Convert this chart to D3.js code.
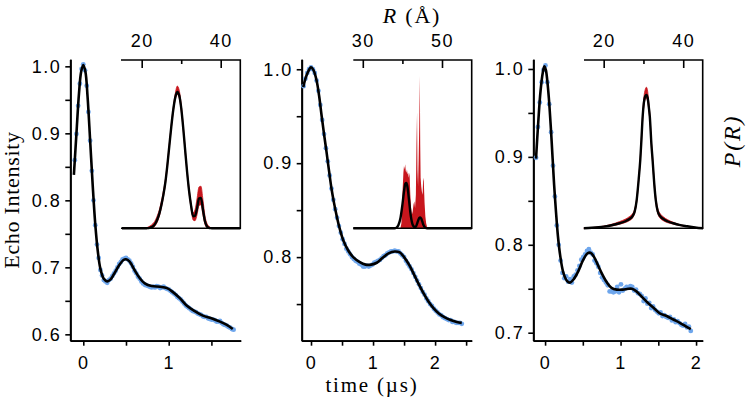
<!DOCTYPE html>
<html><head><meta charset="utf-8">
<script src="https://cdn.jsdelivr.net/npm/d3@7"></script>
<style>body{margin:0;background:#fff}svg{display:block}</style>
</head><body><svg id="c" width="747" height="404"></svg>
<script>
// ---------- DATA ----------
// Echo data (blue dots): uniform time grid start/step
const dots1Start = -0.10, dots1Step = 0.02;
const dots1 = [0.860,0.899,0.941,0.974,0.996,1.003,0.994,0.971,0.932,0.889,
 0.844,0.800,0.763,0.734,0.714,0.696,0.688,0.681,0.679,0.677,
 0.681,0.683,0.687,0.691,0.695,0.700,0.705,0.708,0.712,0.713,
 0.714,0.712,0.710,0.706,0.701,0.695,0.691,0.686,0.683,0.679,
 0.676,0.674,0.673,0.672,0.671,0.670,0.671,0.670,0.672,0.671,
 0.669,0.670,0.671,0.669,0.668,0.667,0.665,0.663,0.661,0.659,
 0.656,0.654,0.652,0.649,0.646,0.643,0.641,0.639,0.637,0.635,
 0.634,0.633,0.631,0.630,0.629,0.627,0.626,0.626,0.624,0.623,
 0.622,0.622,0.621,0.619,0.619,0.620,0.617,0.615,0.614,0.613,
 0.611,0.610,0.608,0.607];
const dots2Start = -0.12, dots2Step = 0.03;
const dots2 = [0.982,0.990,0.996,1.000,1.002,1.000,0.996,0.988,0.977,0.962,
 0.946,0.931,0.916,0.902,0.887,0.873,0.861,0.851,0.842,0.833,
 0.826,0.819,0.814,0.809,0.806,0.803,0.800,0.798,0.796,0.795,
 0.793,0.792,0.790,0.790,0.791,0.790,0.791,0.792,0.794,0.795,
 0.796,0.797,0.799,0.801,0.802,0.804,0.805,0.806,0.806,0.807,
 0.806,0.806,0.804,0.802,0.800,0.796,0.793,0.790,0.787,0.783,
 0.779,0.775,0.771,0.767,0.763,0.760,0.756,0.753,0.750,0.748,
 0.745,0.743,0.741,0.739,0.738,0.736,0.735,0.734,0.733,0.733,
 0.731,0.731,0.730,0.730,0.730,0.729];
const dots3Start = -0.12, dots3Step = 0.025;
const dots3 = [0.899,0.934,0.962,0.985,0.999,1.004,0.985,0.960,0.928,0.890,
 0.855,0.822,0.800,0.782,0.768,0.762,0.764,0.758,0.761,0.757,
 0.764,0.766,0.771,0.776,0.783,0.786,0.789,0.793,0.795,0.791,
 0.789,0.782,0.779,0.775,0.768,0.763,0.760,0.757,0.754,0.747,
 0.747,0.746,0.747,0.752,0.746,0.755,0.748,0.750,0.752,0.751,
 0.753,0.752,0.748,0.749,0.745,0.744,0.742,0.736,0.739,0.733,
 0.734,0.728,0.730,0.726,0.724,0.722,0.723,0.719,0.720,0.718,
 0.717,0.718,0.714,0.715,0.712,0.713,0.711,0.709,0.708,0.710,
 0.706,0.707,0.702];

// Fits (black lines)
const fit1T = [-0.11,-0.08,-0.05,-0.025,0,0.025,0.05,0.08,0.11,0.14,0.17,0.2,0.24,0.28,0.32,0.36,0.42,0.47,0.5,0.54,0.6,0.66,0.72,0.8,0.9,0.98,1.05,1.13,1.21,1.3,1.4,1.5,1.6,1.68,1.75];
const fit1V = [0.838,0.900,0.960,0.992,1.002,0.992,0.955,0.890,0.823,0.765,0.724,0.698,0.683,0.679,0.682,0.690,0.703,0.711,0.712,0.709,0.696,0.684,0.676,0.672,0.671,0.669,0.663,0.654,0.643,0.635,0.628,0.624,0.619,0.614,0.608];
const fit2T = [-0.125,-0.09,-0.05,0,0.04,0.09,0.13,0.17,0.21,0.25,0.29,0.33,0.37,0.41,0.46,0.52,0.6,0.68,0.78,0.88,0.97,1.06,1.15,1.25,1.35,1.43,1.5,1.58,1.65,1.73,1.81,1.89,1.97,2.06,2.15,2.25,2.35,2.43];
const fit2V = [0.981,0.990,0.997,1.002,0.999,0.988,0.972,0.951,0.931,0.912,0.892,0.873,0.858,0.845,0.831,0.818,0.807,0.800,0.795,0.792,0.792,0.794,0.799,0.804,0.806,0.805,0.800,0.792,0.783,0.772,0.762,0.753,0.746,0.740,0.736,0.733,0.731,0.730];
const fit3T = [-0.12,-0.09,-0.06,-0.03,-0.01,0.01,0.03,0.05,0.075,0.1,0.12,0.145,0.17,0.2,0.24,0.29,0.33,0.38,0.44,0.5,0.56,0.6,0.65,0.7,0.76,0.82,0.88,0.95,1.03,1.1,1.15,1.21,1.28,1.36,1.44,1.52,1.61,1.7,1.79,1.87,1.93];
const fit3V = [0.898,0.940,0.975,0.996,1.003,0.999,0.986,0.967,0.935,0.898,0.868,0.837,0.810,0.788,0.769,0.759,0.757,0.761,0.770,0.782,0.790,0.791,0.786,0.777,0.766,0.757,0.751,0.749,0.749,0.750,0.750,0.747,0.741,0.734,0.728,0.722,0.719,0.715,0.711,0.707,0.704];

// Distance distributions P(R) (insets)
const r1 = [15,21,21.5,22,22.5,23,23.5,24,24.5,25,25.5,26,26.5,27,27.5,28,28.5,29,29.5,30,30.5,31,31.5,32,32.5,33,33.5,34,34.5,35,35.5,36,36.5,37,37.5,38,45];
const p1 = [0,0,0.001,0.003,0.007,0.015,0.03,0.055,0.09,0.14,0.2,0.275,0.376,0.491,0.606,0.706,0.778,0.81,0.79,0.715,0.599,0.464,0.333,0.221,0.135,0.072,0.074,0.117,0.177,0.181,0.112,0.043,0.012,0.003,0.001,0,0];
const p1hi = [0,0.002,0.006,0.012,0.02,0.032,0.05,0.078,0.113,0.163,0.222,0.29,0.39,0.503,0.617,0.72,0.8,0.845,0.82,0.735,0.612,0.476,0.345,0.235,0.152,0.092,0.11,0.175,0.245,0.25,0.17,0.075,0.03,0.012,0.004,0,0];
const p1lo = [0,0,0,0,0,0.005,0.018,0.04,0.075,0.125,0.185,0.262,0.365,0.48,0.597,0.695,0.765,0.795,0.775,0.7,0.588,0.453,0.322,0.208,0.12,0.05,0.045,0.08,0.135,0.14,0.08,0.025,0.004,0,0,0,0];

const r2 = [27.6,38,38.5,39,39.5,40,40.25,40.5,40.75,41,41.25,41.5,41.75,42,42.25,42.5,42.75,43,43.25,43.5,43.75,44,44.25,44.5,44.75,45,45.25,45.5,45.75,46,46.5,57.5];
const p2 = [0,0,0.004,0.02,0.06,0.14,0.19,0.235,0.265,0.27,0.25,0.205,0.15,0.095,0.055,0.028,0.014,0.008,0.008,0.014,0.03,0.048,0.061,0.065,0.058,0.042,0.024,0.011,0.004,0.001,0,0];
const r2hi = [27.6,39.5,39.75,40,40.25,40.4,40.55,40.7,40.85,41,41.15,41.3,41.45,41.6,41.8,42,42.2,42.4,42.6,42.8,43,43.2,43.4,43.55,43.7,43.8,43.95,44.1,44.25,44.4,44.5,44.6,44.75,44.9,45.1,45.25,45.4,45.6,45.8,46,46.2,46.4,57.5];
const p2hi = [0,0,0.03,0.2,0.33,0.37,0.35,0.38,0.34,0.33,0.35,0.32,0.33,0.3,0.33,0.2,0.12,0.08,0.1,0.14,0.16,0.12,0.2,0.5,0.69,0.35,0.25,0.4,0.6,0.905,0.5,0.3,0.25,0.22,0.2,0.3,0.28,0.15,0.07,0.03,0.01,0,0];

const r3 = [15,17,20,22,24,25.5,26.5,27.2,27.8,28.3,28.8,29.2,29.5,29.8,30.1,30.45,30.75,31.05,31.35,31.6,32,32.3,32.7,33.1,33.6,34.2,35,36,37.5,39,41,43,45];
const p3 = [0,0.003,0.01,0.018,0.03,0.042,0.055,0.07,0.1,0.168,0.29,0.406,0.53,0.663,0.745,0.785,0.792,0.775,0.72,0.663,0.5,0.406,0.27,0.168,0.1,0.072,0.055,0.042,0.03,0.02,0.012,0.005,0];
const p3hi = [0,0.004,0.013,0.024,0.04,0.055,0.07,0.085,0.115,0.18,0.3,0.42,0.545,0.68,0.775,0.825,0.838,0.815,0.745,0.68,0.515,0.42,0.285,0.185,0.118,0.088,0.068,0.052,0.036,0.023,0.013,0.005,0];
const p3lo = [0,0.002,0.008,0.014,0.024,0.035,0.046,0.06,0.09,0.155,0.28,0.395,0.515,0.645,0.725,0.765,0.772,0.755,0.7,0.645,0.485,0.39,0.258,0.155,0.088,0.06,0.045,0.034,0.025,0.017,0.01,0.004,0];

// Tick values / labels
const yTicks1 = [0.6,0.7,0.8,0.9,1.0], yMinor1 = [0.65,0.75,0.85,0.95];
const yTicks2 = [0.8,0.9,1.0], yMinor2 = [0.75,0.85,0.95];
const yTicks3 = [0.7,0.8,0.9,1.0], yMinor3 = [0.75,0.85,0.95];
const xTicks1 = [0,1], xMinor1 = [0.5,1.5];
const xTicks2 = [0,1,2], xMinor2 = [0.5,1.5,2.5];
const xTicks3 = [0,1,2], xMinor3 = [0.5,1.5];
const rTicks1 = [20,40], rMinor1 = [30];
const rTicks2 = [30,50], rMinor2 = [40];
const rTicks3 = [20,40], rMinor3 = [30];

const labelY = "Echo Intensity", labelX = "time (\u00b5s)", labelR = "R", labelRunit = " (\u00c5)", labelP = "P(R)";

// ---------- DRAW ----------
const svg = d3.select('#c');
const BLUE = '#6ea6ec', RED = '#c8161d';
const TOP = 59.3, BOT = 340.7, ITOP = 60, IBOT = 228.3;
const tickFont = "'Liberation Sans', Arial, sans-serif";
const serif = "'Liberation Serif', 'Times New Roman', serif";

const panels = [
  {xr:[70.3,240.7], xd:[-0.152,1.843], yd:[0.5905,1.0105], dots:dots1, ds:dots1Start, dt:dots1Step, ft:fit1T, fv:fit1V,
   yT:yTicks1, yM:yMinor1, xT:xTicks1, xM:xMinor1,
   inset:{xr:[121,240.3], xd:[14.76,44.96], rT:rTicks1, rM:rMinor1, kind:'band', r:r1, p:p1, hi:p1hi, lo:p1lo}},
  {xr:[301.7,471.7], xd:[-0.15,2.59], yd:[0.711,1.0106], dots:dots2, ds:dots2Start, dt:dots2Step, ft:fit2T, fv:fit2V,
   yT:yTicks2, yM:yMinor2, xT:xTicks2, xM:xMinor2,
   inset:{xr:[353.3,471.7], xd:[27.6,57.5], rT:rTicks2, rM:rMinor2, kind:'spike', r:r2, p:p2, rh:r2hi, hi:p2hi}},
  {xr:[533.3,702.7], xd:[-0.156,2.088], yd:[0.6909,1.011], dots:dots3, ds:dots3Start, dt:dots3Step, ft:fit3T, fv:fit3V,
   yT:yTicks3, yM:yMinor3, xT:xTicks3, xM:xMinor3,
   inset:{xr:[584,702.7], xd:[15.05,44.9], rT:rTicks3, rM:rMinor3, kind:'band', r:r3, p:p3, hi:p3hi, lo:p3lo}}
];

function styleAxis(g){
  g.select('.domain').attr('stroke','#000').attr('stroke-width',1.8);
  g.selectAll('.tick line').attr('stroke','#000').attr('stroke-width',1.6);
  g.selectAll('.tick text').attr('font-family',tickFont).attr('font-size',18).attr('fill','#000').attr('letter-spacing','1.5px');
}

panels.forEach(P => {
  const x = d3.scaleLinear().domain(P.xd).range(P.xr);
  const y = d3.scaleLinear().domain(P.yd).range([BOT, TOP]);
  const g = svg.append('g');

  const ya = g.append('g').attr('transform',`translate(${P.xr[0]},0)`)
    .call(d3.axisLeft(y).tickValues(P.yT).tickFormat(d3.format('.1f')).tickSize(5).tickSizeOuter(0).tickPadding(4));
  styleAxis(ya);
  const ym = g.append('g').attr('transform',`translate(${P.xr[0]},0)`)
    .call(d3.axisLeft(y).tickValues(P.yM).tickFormat('').tickSize(5).tickSizeOuter(0));
  styleAxis(ym);
  const xa = g.append('g').attr('transform',`translate(0,${BOT})`)
    .call(d3.axisBottom(x).tickValues(P.xT).tickFormat(d3.format('d')).tickSize(5).tickSizeOuter(0).tickPadding(11));
  styleAxis(xa);
  const xm = g.append('g').attr('transform',`translate(0,${BOT})`)
    .call(d3.axisBottom(x).tickValues(P.xM).tickFormat('').tickSize(5).tickSizeOuter(0));
  styleAxis(xm);

  g.append('g').selectAll('circle').data(P.dots).join('circle')
    .attr('cx',(d,i)=>x(P.ds + i*P.dt)).attr('cy',d=>y(d)).attr('r',2.4).attr('fill',BLUE);
  const line = d3.line().x(d=>x(d[0])).y(d=>y(d[1])).curve(d3.curveCatmullRom.alpha(0.5));
  g.append('path').datum(P.ft.map((t,i)=>[t,P.fv[i]])).attr('d',line)
    .attr('fill','none').attr('stroke','#000').attr('stroke-width',2.6).attr('stroke-linejoin','round');

  const I = P.inset;
  const ix = d3.scaleLinear().domain(I.xd).range(I.xr);
  const iy = d3.scaleLinear().domain([0,1]).range([IBOT, ITOP]);
  const ig = svg.append('g');
  if (I.kind === 'band') {
    const area = d3.area().x((d,i)=>ix(I.r[i])).y0((d,i)=>iy(I.lo[i])).y1((d,i)=>iy(I.hi[i])).curve(d3.curveMonotoneX);
    ig.append('path').datum(I.r).attr('d',area).attr('fill',RED).attr('stroke',RED).attr('stroke-width',0.8);
  } else {
    const area = d3.area().x((d,i)=>ix(I.rh[i])).y0(iy(0)).y1((d,i)=>iy(I.hi[i]));
    ig.append('path').datum(I.rh).attr('d',area).attr('fill',RED);
  }
  const il = d3.line().x((d,i)=>ix(I.r[i])).y((d,i)=>iy(I.p[i])).curve(d3.curveMonotoneX);
  ig.append('path').datum(I.r).attr('d',il).attr('fill','none').attr('stroke','#000').attr('stroke-width',2.4).attr('stroke-linejoin','round');
  ig.append('path').attr('d',`M${I.xr[0]},${ITOP}H${I.xr[1]}V${IBOT}H${I.xr[0]}`)
    .attr('fill','none').attr('stroke','#000').attr('stroke-width',1.6);
  const ta = ig.append('g').attr('transform',`translate(0,${ITOP})`)
    .call(d3.axisTop(ix).tickValues(I.rT).tickFormat(d3.format('d')).tickSize(-8).tickSizeOuter(0).tickPadding(13.3));
  styleAxis(ta); ta.select('.domain').remove();
  const tm = ig.append('g').attr('transform',`translate(0,${ITOP})`)
    .call(d3.axisTop(ix).tickValues(I.rM).tickFormat('').tickSize(-4).tickSizeOuter(0));
  styleAxis(tm); tm.select('.domain').remove();
});

svg.append('text').attr('transform','translate(19,200) rotate(-90)').attr('text-anchor','middle')
  .attr('font-family',serif).attr('font-size',22).attr('letter-spacing','0.7px').text(labelY);
svg.append('text').attr('x',372).attr('y',392).attr('text-anchor','middle')
  .attr('font-family',serif).attr('font-size',21).attr('letter-spacing','1.8px').text(labelX);
const rt = svg.append('text').attr('x',412).attr('y',22.5).attr('text-anchor','middle')
  .attr('font-family',serif).attr('font-size',22).attr('letter-spacing','1.8px');
rt.append('tspan').attr('font-style','italic').text(labelR);
rt.append('tspan').text(labelRunit);
svg.append('text').attr('transform','translate(740,141) rotate(-90)').attr('text-anchor','middle')
  .attr('font-family',serif).attr('font-size',24).attr('font-style','italic').attr('letter-spacing','1.8px').text(labelP);
</script>
</body></html>
